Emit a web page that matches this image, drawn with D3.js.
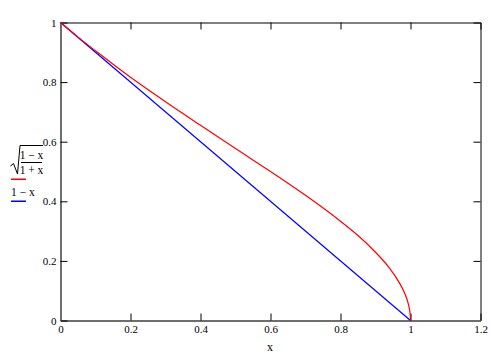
<!DOCTYPE html>
<html>
<head>
<script src="https://d3js.org/d3.v7.min.js"></script>
<style>
  body { margin: 0; background: white; }
  svg text { font-family: "Liberation Serif", serif; }
</style>
</head>
<body>
<svg id="chart" width="500" height="353"></svg>
<script>
// values
const redX = [0, 0.05, 0.1, 0.2, 0.3, 0.4, 0.5, 0.6, 0.7, 0.8, 0.85, 0.9, 0.94, 0.97, 0.985, 0.995, 0.999, 1];
const redY = [1, 0.951, 0.905, 0.816, 0.734, 0.655, 0.577, 0.5, 0.42, 0.333, 0.285, 0.229, 0.176, 0.123, 0.087, 0.05, 0.022, 0];
const blueX = [0, 1];
const blueY = [1, 0];
const xTicks = [0, 0.2, 0.4, 0.6, 0.8, 1, 1.2];
const yTicks = [0, 0.2, 0.4, 0.6, 0.8, 1];

const svg = d3.select("#chart");
const x = d3.scaleLinear([0, 1.2], [60.5, 480.5]);
const y = d3.scaleLinear([0, 1], [320.5, 22.5]);
const fmt = d => d == 0 ? "0" : d3.format("")(+d.toFixed(1));

// top + right frame
svg.append("g").attr("transform", "translate(0,22.5)")
  .call(d3.axisTop(x).tickValues(xTicks).tickSizeInner(-7).tickSizeOuter(0).tickFormat(""))
  .call(g => g.select(".domain").attr("stroke", "#000"));
svg.append("g").attr("transform", "translate(480.5,0)")
  .call(d3.axisRight(y).tickValues(yTicks).tickSizeInner(-7).tickSizeOuter(0).tickFormat(""));

// bottom + left axes
const xa = svg.append("g").attr("transform", "translate(0,320.5)")
  .call(d3.axisBottom(x).tickValues(xTicks).tickSizeInner(-7).tickSizeOuter(0).tickPadding(5).tickFormat(fmt));
const ya = svg.append("g").attr("transform", "translate(60.5,0)")
  .call(d3.axisLeft(y).tickValues(yTicks).tickSizeInner(-7).tickSizeOuter(0).tickPadding(4).tickFormat(fmt));
[xa, ya].forEach(g => {
  g.select(".domain").attr("stroke", "#6e6e6e").attr("stroke-width", 2);
  g.selectAll("text").attr("font-size", 11).attr("font-family", "Liberation Serif").attr("fill", "#000");
});
svg.selectAll(".tick line").attr("stroke", "#000");

// curves
const line = d3.line().x(d => x(d[0])).y(d => y(d[1])).curve(d3.curveMonotoneY);
svg.append("path").datum(blueX.map((v, i) => [v, blueY[i]]))
  .attr("d", d3.line().x(d => x(d[0])).y(d => y(d[1])))
  .attr("fill", "none").attr("stroke", "#0000ff").attr("stroke-width", 1.2);
svg.append("path").datum(redX.map((v, i) => [v, redY[i]]))
  .attr("d", line)
  .attr("fill", "none").attr("stroke", "#ff0000").attr("stroke-width", 1.2);

// axis title
svg.append("text").attr("x", 270).attr("y", 351).attr("text-anchor", "middle")
  .attr("font-size", 12).text("x");

// legend
const lg = svg.append("g").attr("font-size", 11.5).attr("fill", "#000");
lg.append("path").attr("d", "M10.5,166 L13.5,163.5 L17.5,174 L20,145.5 L43,145.5")
  .attr("fill", "none").attr("stroke", "#000").attr("stroke-width", 1);
lg.append("text").attr("x", 31.5).attr("y", 159).attr("text-anchor", "middle").text("1 \u2212 x");
lg.append("line").attr("x1", 21).attr("x2", 42).attr("y1", 162.5).attr("y2", 162.5)
  .attr("stroke", "#000").attr("stroke-width", 1);
lg.append("text").attr("x", 31.5).attr("y", 174).attr("text-anchor", "middle").text("1 + x");
lg.append("rect").attr("x", 11).attr("width", 15).attr("y", 178.5).attr("height", 1.5)
  .attr("fill", "#ff0000");
lg.append("text").attr("x", 11).attr("y", 196).text("1 \u2212 x");
lg.append("rect").attr("x", 11).attr("width", 15).attr("y", 200.5).attr("height", 1.5)
  .attr("fill", "#0000ff");
</script>
</body>
</html>
